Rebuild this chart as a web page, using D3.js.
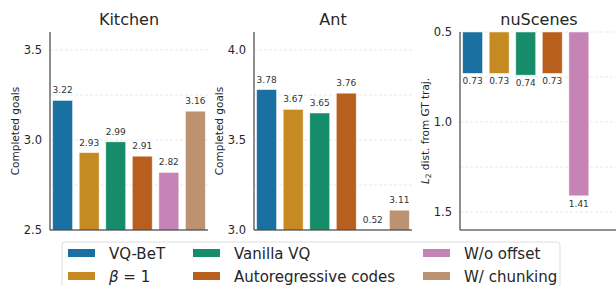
<!DOCTYPE html>
<html>
<head>
<meta charset="utf-8">
<script src="https://cdn.jsdelivr.net/npm/d3@7"></script>
<style>
  body { margin: 0; background: #fff; }
  text { font-family: "DejaVu Sans", sans-serif; fill: #262626; }
</style>
</head>
<body>
<svg id="main_svg" width="616" height="286"></svg>
<script>
// data
var methods = ["VQ-BeT", "β=1", "Vanilla VQ", "Autoregressive codes", "W/o offset", "W/ chunking"];
var colors = ["#1a70a0", "#c58a22", "#178c6b", "#b95f1e", "#c583b6", "#bc9270"];
var kitchenVals = [3.22, 2.93, 2.99, 2.91, 2.82, 3.16];
var antVals = [3.78, 3.67, 3.65, 3.76, 0.52, 3.11];
var nuscenesVals = [0.73, 0.73, 0.74, 0.73, 1.41, null];
var kitchenTicks = [2.5, 3.0, 3.5];
var antTicks = [3.0, 3.5, 4.0];
var nuscenesTicks = [0.5, 1.0, 1.5];

var svg = d3.select('#main_svg');
var top_y = 32, bottom_y = 230;

var panels = [
  {title: 'Kitchen', left: 50, vals: kitchenVals, domain: [2.5, 3.6], ticks: kitchenTicks, ylabel: 'Completed goals', ylx: 19, flip: false},
  {title: 'Ant', left: 254, vals: antVals, domain: [3.0, 4.1], ticks: antTicks, ylabel: 'Completed goals', ylx: 223, flip: false},
  {title: 'nuScenes', left: 460, vals: nuscenesVals, domain: [0.5, 1.6], ticks: nuscenesTicks, ylabel: null, ylx: 429, flip: true}
];

panels.forEach(function(p) {
  var g = svg.append('g');
  var x = d3.scaleBand()
    .domain(d3.range(methods.length))
    .range([p.left, p.left + 158])
    .paddingInner(0.25)
    .paddingOuter(0.1);
  var y = d3.scaleLinear()
    .domain(p.domain)
    .range(p.flip ? [top_y, bottom_y] : [bottom_y, top_y]);

  // grid every 0.25
  var grid = d3.range(p.domain[0], p.domain[1] + 0.001, 0.25);
  g.selectAll('.grid')
    .data(grid)
    .enter()
    .append('line')
    .attr('x1', p.left)
    .attr('x2', p.left + 160)
    .attr('y1', function(d) { return y(d); })
    .attr('y2', function(d) { return y(d); })
    .attr('stroke', '#e3e3e3')
    .attr('stroke-width', 0.8)
    .attr('stroke-dasharray', '3,2');

  var data = p.vals.map(function(v, i) { return {v: v, i: i}; })
    .filter(function(d) { return d.v != null; });

  var clampY = function(v) { return Math.max(top_y, Math.min(bottom_y, y(v))); };

  // bars
  g.selectAll('rect')
    .data(data)
    .enter()
    .append('rect')
    .attr('x', function(d) { return x(d.i); })
    .attr('width', x.bandwidth())
    .attr('y', function(d) { return p.flip ? top_y : clampY(d.v); })
    .attr('height', function(d) { return p.flip ? clampY(d.v) - top_y : bottom_y - clampY(d.v); })
    .attr('fill', function(d) { return colors[d.i]; })
    .attr('stroke', '#fff')
    .attr('stroke-opacity', 0.6)
    .attr('stroke-width', 0.8);

  // value labels
  g.selectAll('.val')
    .data(data)
    .enter()
    .append('text')
    .attr('x', function(d) { return x(d.i) + x.bandwidth() / 2; })
    .attr('y', function(d) { return p.flip ? clampY(d.v) + 11 : clampY(d.v) - 7; })
    .attr('text-anchor', 'middle')
    .style('font-size', '9px')
    .style('fill', '#333')
    .text(function(d) { return d.v.toFixed(2); });

  // spines
  g.append('line')
    .attr('x1', p.left).attr('x2', p.left)
    .attr('y1', top_y).attr('y2', bottom_y)
    .attr('stroke', '#444').attr('stroke-width', 1.2);
  g.append('line')
    .attr('x1', p.left).attr('x2', p.left + 158)
    .attr('y1', bottom_y).attr('y2', bottom_y)
    .attr('stroke', '#222').attr('stroke-width', 1.2);

  // tick labels
  g.selectAll('.tick')
    .data(p.ticks)
    .enter()
    .append('text')
    .attr('x', p.left - 8)
    .attr('y', function(d) { return y(d) + 4; })
    .attr('text-anchor', 'end')
    .style('font-size', '11.5px')
    .text(function(d) { return d.toFixed(1); });

  // title
  g.append('text')
    .attr('x', p.left + 79)
    .attr('y', 25)
    .attr('text-anchor', 'middle')
    .style('font-size', '16px')
    .text(p.title);

  // y label
  var yl = g.append('text')
    .attr('transform', 'translate(' + p.ylx + ',' + ((top_y + bottom_y) / 2) + ') rotate(-90)')
    .attr('text-anchor', 'middle')
    .style('font-size', '10.5px');
  if (p.ylabel) {
    yl.text(p.ylabel);
  } else {
    yl.append('tspan').style('font-style', 'italic').text('L');
    yl.append('tspan').attr('dy', 2).style('font-size', '7.5px').text('2');
    yl.append('tspan').attr('dy', -2).text(' dist. from GT traj.');
  }
});

// legend
var legend = svg.append('g');
legend.append('rect')
  .attr('x', 62).attr('y', 242)
  .attr('width', 498).attr('height', 60)
  .attr('rx', 3)
  .attr('fill', '#fff')
  .attr('stroke', '#d5d5d5')
  .attr('stroke-width', 0.8);

var legendCols = [68, 193, 423];
var legendRows = [253, 276];
methods.forEach(function(m, i) {
  var cx = legendCols[Math.floor(i / 2)];
  var cy = legendRows[i % 2];
  legend.append('rect')
    .attr('x', cx).attr('y', cy - 4)
    .attr('width', 27).attr('height', 8)
    .attr('fill', colors[i]);
  var t = legend.append('text')
    .attr('x', cx + 41)
    .attr('y', cy + 5.5)
    .style('font-size', '15px');
  if (m == 'β=1') {
    t.append('tspan').style('font-style', 'italic').text('β');
    t.append('tspan').text(' = 1');
  } else {
    t.text(m);
  }
});
</script>
</body>
</html>
